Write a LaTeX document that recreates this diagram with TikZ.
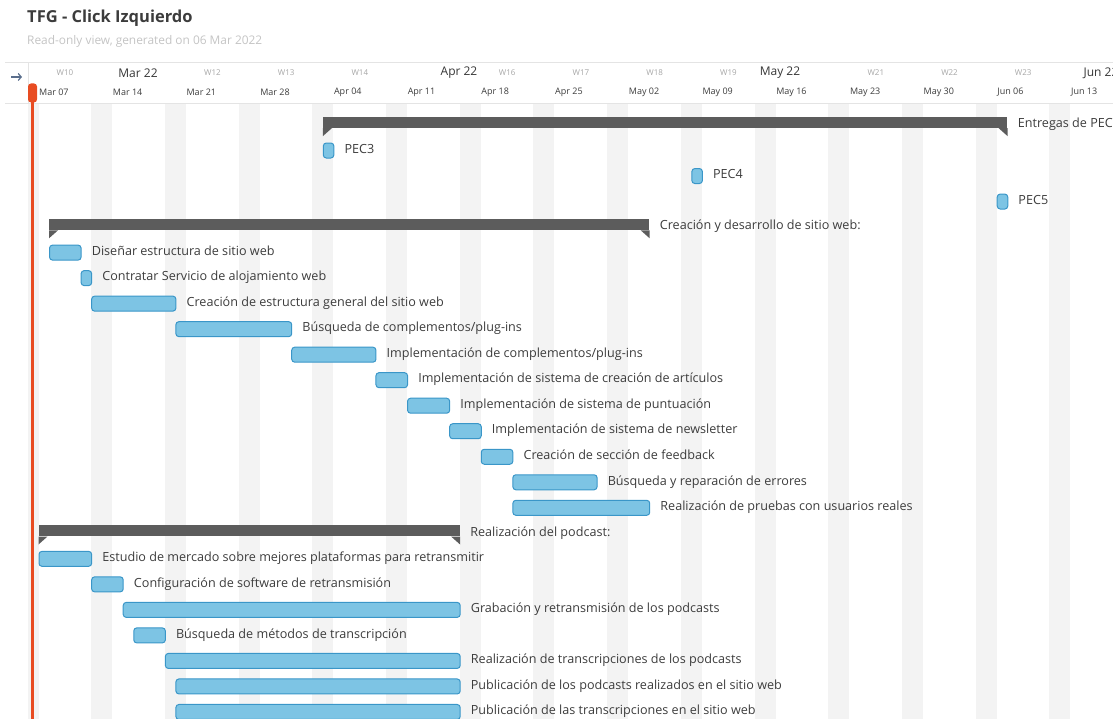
\documentclass[tikz,border=0pt]{standalone}
\usepackage{fontspec}
\setmainfont{Open Sans}
\usetikzlibrary{positioning, arrows.meta}

\definecolor{barblue}{RGB}{125, 196, 228}
\definecolor{barline}{RGB}{58, 150, 200}
\definecolor{grpgray}{RGB}{92, 92, 92}
\definecolor{txtdark}{RGB}{60, 60, 60}
\definecolor{txtlight}{RGB}{196, 196, 196}
\definecolor{wkgray}{RGB}{165, 165, 165}
\definecolor{stripe}{RGB}{243, 243, 243}
\definecolor{todayred}{RGB}{232, 76, 34}
\definecolor{hdrline}{RGB}{228, 228, 228}
\definecolor{arrowslate}{RGB}{90, 110, 140}

% day -> x, row -> y (1 unit = 1px)
\newcommand{\dayx}[1]{38.5+(#1)*10.53}
\newcommand{\rowy}[1]{125+(#1)*25.52}

\tikzset{
  taskbar/.style={draw=barline, fill=barblue, line width=1pt, rounded corners=3pt,
    minimum height=15pt, inner sep=0pt, anchor=west},
  grpbar/.style={fill=grpgray, minimum height=11pt, inner sep=0pt, anchor=west},
  tasklbl/.style={text=txtdark, font=\fontsize{12.6}{15}\selectfont, inner sep=0pt,
    text height=8.5pt, text depth=3pt, anchor=west},
  wklbl/.style={text=wkgray, font=\fontsize{8}{10}\selectfont, inner sep=0pt},
  datelbl/.style={text=txtdark, font=\fontsize{9}{11}\selectfont, inner sep=0pt, anchor=west},
  monlbl/.style={text=txtdark!90!black, font=\fontsize{12}{14}\selectfont, inner sep=0pt},
}

\newcommand{\ganttbar}[5]{% name, row, first day, last day, label
  \pgfmathsetmacro{\barw}{(#4-#3)*10.53}
  \node[taskbar, minimum width=\barw pt] (#1) at ({\dayx{#3}}, {\rowy{#2}}) {};
  \node[tasklbl, right=10pt of #1] (#1l) {#5};
}
\newcommand{\ganttgroup}[5]{% name, row, first day, last day, label
  \pgfmathsetmacro{\barw}{(#4-#3)*10.53}
  \node[grpbar, minimum width=\barw pt] (#1) at ({\dayx{#3}}, {\rowy{#2}-2.5}) {};
  \fill[grpgray] (#1.south west) -- ++(0,8) -- ++(9,-8) -- cycle;
  \fill[grpgray] (#1.south east) -- ++(0,8) -- ++(-9,-8) -- cycle;
  \node[tasklbl, right=10pt of #1, yshift=-2.5pt] (#1l) {#5};
}

\begin{document}
\begin{tikzpicture}[x=1pt, y=-1pt]
  \useasboundingbox (0,0) rectangle (1113,719);
  \clip (0,0) rectangle (1113,719);

  % title
  \node[anchor=west, inner sep=0pt, text=txtdark, font=\fontsize{16.5}{20}\selectfont\bfseries]
    (title) at (27,18) {TFG - Click Izquierdo};
  \node[anchor=west, inner sep=0pt, text=txtlight, font=\fontsize{11.9}{14}\selectfont]
    (subtitle) at (27,41) {Read-only view, generated on 06 Mar 2022};

  % weekend stripes
  \begin{scope}
    \clip (28,103) rectangle (1113,719);
    \foreach \k in {-1,...,14}
      \fill[stripe] ({\dayx{5+7*\k}},103) rectangle ({\dayx{7+7*\k}},719);
  \end{scope}

  % header
  \draw[hdrline] (5,62) -- (1113,62);
  \draw[hdrline] (5,103) -- (1113,103);
  \draw[hdrline] (28,62) -- (28,103);
  \draw[arrowslate, line width=1.2pt, -{Straight Barb[length=3pt, width=7pt]}] (11,77) -- (22,77);

  \foreach \i in {0,2,3,4,6,7,8,9,11,12,13} {
    \pgfmathtruncatemacro{\wk}{10+\i}
    \node[wklbl] (wk\wk) at ({\dayx{7*\i}+26.5}, 73) {W\wk};
  }
  \foreach \m/\x [count=\i] in {Mar 22/138, Apr 22/459, May 22/780, Jun 22/1101}
    \node[monlbl] (mon\i) at (\x, 73) {\m};
  \foreach \d [count=\i from 0] in {Mar 07, Mar 14, Mar 21, Mar 28, Apr 04, Apr 11, Apr 18,
      Apr 25, May 02, May 09, May 16, May 23, May 30, Jun 06, Jun 13}
    \node[datelbl] (date\i) at ({\dayx{7*\i}+0.5}, 92) {\d};

  % today
  \coordinate (chartend) at (32.5,719);
  \draw[todayred, line width=2.5pt] (32.5,95) -- (chartend);
  \node[fill=todayred, rounded corners=3pt, minimum width=9pt, minimum height=19pt,
    inner sep=0pt] (today) at (32.5,93) {};

  % Entregas
  \ganttgroup{pecs}{0}{27}{92}{Entregas de PEC}
  \ganttbar{pec3}{1}{27}{28}{PEC3}
  \ganttbar{pec4}{2}{62}{63}{PEC4}
  \ganttbar{pec5}{3}{91}{92}{PEC5}

  % sitio web
  \ganttgroup{web}{4}{1}{58}{Creación y desarrollo de sitio web:}
  \ganttbar{web1}{5}{1}{4}{Diseñar estructura de sitio web}
  \ganttbar{web2}{6}{4}{5}{Contratar Servicio de alojamiento web}
  \ganttbar{web3}{7}{5}{13}{Creación de estructura general del sitio web}
  \ganttbar{web4}{8}{13}{24}{Búsqueda de complementos/plug-ins}
  \ganttbar{web5}{9}{24}{32}{Implementación de complementos/plug-ins}
  \ganttbar{web6}{10}{32}{35}{Implementación de sistema de creación de artículos}
  \ganttbar{web7}{11}{35}{39}{Implementación de sistema de puntuación}
  \ganttbar{web8}{12}{39}{42}{Implementación de sistema de newsletter}
  \ganttbar{web9}{13}{42}{45}{Creación de sección de feedback}
  \ganttbar{web10}{14}{45}{53}{Búsqueda y reparación de errores}
  \ganttbar{web11}{15}{45}{58}{Realización de pruebas con usuarios reales}

  % podcast
  \ganttgroup{pod}{16}{0}{40}{Realización del podcast:}
  \ganttbar{pod1}{17}{0}{5}{Estudio de mercado sobre mejores plataformas para retransmitir}
  \ganttbar{pod2}{18}{5}{8}{Configuración de software de retransmisión}
  \ganttbar{pod3}{19}{8}{40}{Grabación y retransmisión de los podcasts}
  \ganttbar{pod4}{20}{9}{12}{Búsqueda de métodos de transcripción}
  \ganttbar{pod5}{21}{12}{40}{Realización de transcripciones de los podcasts}
  \ganttbar{pod6}{22}{13}{40}{Publicación de los podcasts realizados en el sitio web}
  \ganttbar{pod7}{23}{13}{40}{Publicación de las transcripciones en el sitio web}
\end{tikzpicture}
\end{document}
